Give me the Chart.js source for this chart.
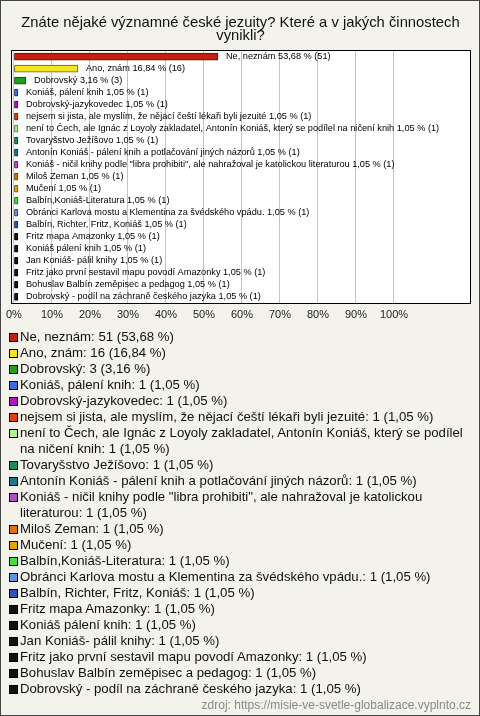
<!DOCTYPE html>
<html>
<head>
<meta charset="utf-8">
<script src="https://cdn.jsdelivr.net/npm/chart.js@4"></script>
<style>
  html, body { margin:0; padding:0; background:#fff; }
  #frame {
    position:relative; width:478px; height:714px;
    border:1px solid #444; background:#F3F2EB; overflow:hidden;
    font-family:"Liberation Sans", Arial, sans-serif;
  }
  #chartBox { position:absolute; left:-1px; top:-1px; width:480px; height:336px; }
  #legend {
    position:absolute; left:8px; top:328px; width:458px;
    font-size:13.2px; line-height:16px; color:#111;
  }
  .item { position:relative; padding-left:11px; }
  .sw {
    position:absolute; left:0; top:4px; width:7px; height:7px;
    border:1px solid #000;
  }
  #src {
    position:absolute; right:8px; top:697px;
    font-size:12px; color:#888;
  }
</style>
</head>
<body>
<div id="frame">
  <div id="chartBox"><canvas id="c"></canvas></div>
  <div id="legend"></div>
  <div id="src">zdroj: https://misie-ve-svetle-globalizace.vyplnto.cz</div>
</div>
<script>
// ── DATA ─────────────────────────────────────────────
const titleLines = ["Znáte nějaké významné české jezuity? Které a v jakých činnostech", "vynikli?"];

const categories = [
  "Ne, neznám",
  "Ano, znám",
  "Dobrovský",
  "Koniáš, pálení knih",
  "Dobrovský-jazykovedec",
  "nejsem si jista, ale myslím, že nějací čeští lékaři byli jezuité",
  "není to Čech, ale Ignác z Loyoly zakladatel, Antonín Koniáš, který se podílel na ničení knih",
  "Tovaryšstvo Ježíšovo",
  "Antonín Koniáš - pálení knih a potlačování jiných názorů",
  "Koniáš - ničil knihy podle \"libra prohibiti\", ale nahražoval je katolickou literaturou",
  "Miloš Zeman",
  "Mučení",
  "Balbín,Koniáš-Literatura",
  "Obránci Karlova mostu a Klementina za švédského vpádu.",
  "Balbín, Richter, Fritz, Koniáš",
  "Fritz mapa Amazonky",
  "Koniáš pálení knih",
  "Jan Koniáš- pálil knihy",
  "Fritz jako první sestavil mapu povodí Amazonky",
  "Bohuslav Balbín zeměpisec a pedagog",
  "Dobrovský - podíl na záchraně českého jazyka"
];

const counts   = [51, 16, 3, 1, 1, 1, 1, 1, 1, 1, 1, 1, 1, 1, 1, 1, 1, 1, 1, 1, 1];
const percents = [53.68, 16.84, 3.16, 1.05, 1.05, 1.05, 1.05, 1.05, 1.05, 1.05, 1.05,
                  1.05, 1.05, 1.05, 1.05, 1.05, 1.05, 1.05, 1.05, 1.05, 1.05];

const colors = [
  "#C8200F", "#F5E51E", "#1EA01E", "#3A6CE0", "#B014C4", "#E0400E", "#B4F28C",
  "#179058", "#1A7890", "#B450C4", "#E07010", "#E0A800", "#44E03C", "#6490E0",
  "#2E54B4", "#111111", "#111111", "#111111", "#111111", "#111111", "#111111"
];
const borders = [
  "#5A0A04", "#6A6000", "#0A4A0A", "#10306A", "#500058", "#6A1A04", "#507040",
  "#084024", "#08343E", "#502058", "#6A3406", "#6A4E00", "#146A10", "#283E6A",
  "#142450", "#000000", "#000000", "#000000", "#000000", "#000000", "#000000"
];

const xTicksMax = 100;   // tick labels shown up to 100 %
const xAxisMax  = 120;   // plot runs a bit further

const fmt = v => v.toFixed(2).replace(".", ",");

// ── PLUGINS ──────────────────────────────────────────
const plotFrame = {
  id: "plotFrame",
  beforeDraw(chart) {
    const { ctx, chartArea: a } = chart;
    ctx.save();
    ctx.fillStyle = "#ffffff";
    ctx.fillRect(a.left - 2, a.top, a.right - a.left + 2, a.bottom - a.top);
    ctx.restore();
  },
  afterDraw(chart) {
    const { ctx, chartArea: a } = chart;
    ctx.save();
    ctx.strokeStyle = "#000";
    ctx.lineWidth = 1;
    ctx.strokeRect(Math.round(a.left) - 2.5, Math.round(a.top) - 0.5,
                   Math.round(a.right - a.left) + 3, Math.round(a.bottom - a.top) + 1);
    ctx.restore();
  }
};

const barLabels = {
  id: "barLabels",
  afterDatasetsDraw(chart) {
    const { ctx } = chart;
    const meta = chart.getDatasetMeta(0);
    ctx.save();
    ctx.font = '9.2px "Liberation Sans", Arial, sans-serif';
    ctx.fillStyle = "#000";
    ctx.textBaseline = "middle";
    meta.data.forEach((bar, i) => {
      const txt = `${categories[i]} ${fmt(percents[i])} % (${counts[i]})`;
      ctx.fillText(txt, bar.x + 8, bar.y);
    });
    ctx.restore();
  }
};

// ── CHART ────────────────────────────────────────────
new Chart(document.getElementById("c"), {
  type: "bar",
  data: {
    labels: categories,
    datasets: [{
      data: percents,
      backgroundColor: colors,
      borderColor: borders,
      borderWidth: 1,
      barThickness: 7,
      borderRadius: 1,
      borderSkipped: false
    }]
  },
  options: {
    indexAxis: "y",
    responsive: true,
    maintainAspectRatio: false,
    animation: false,
    layout: { padding: { left: 11, right: 10, top: 8, bottom: 8 } },
    plugins: {
      legend: { display: false },
      tooltip: { enabled: false },
      title: {
        display: true,
        text: titleLines,
        color: "#111",
        font: { family: '"Liberation Sans", Arial, sans-serif', size: 14.8, weight: "normal", lineHeight: 0.9 },
        padding: { top: 8, bottom: 8 }
      }
    },
    scales: {
      x: {
        min: 0, max: xAxisMax,
        border: { display: false },
        grid: { color: "#C4C4C4", drawTicks: false, lineWidth: 1 },
        ticks: {
          stepSize: 10,
          padding: 6,
          color: "#222",
          font: { family: '"Liberation Sans", Arial, sans-serif', size: 11 },
          callback: v => (v <= xTicksMax ? v + "%" : null)
        }
      },
      y: {
        display: false,
        grid: { display: false }
      }
    }
  },
  plugins: [plotFrame, barLabels]
});

// ── LEGEND ───────────────────────────────────────────
const legend = document.getElementById("legend");
categories.forEach((cat, i) => {
  const d = document.createElement("div");
  d.className = "item";
  d.innerHTML = `<span class="sw" style="background:${colors[i]}"></span>`;
  d.appendChild(document.createTextNode(`${cat}: ${counts[i]} (${fmt(percents[i])} %)`));
  legend.appendChild(d);
});
</script>
</body>
</html>
